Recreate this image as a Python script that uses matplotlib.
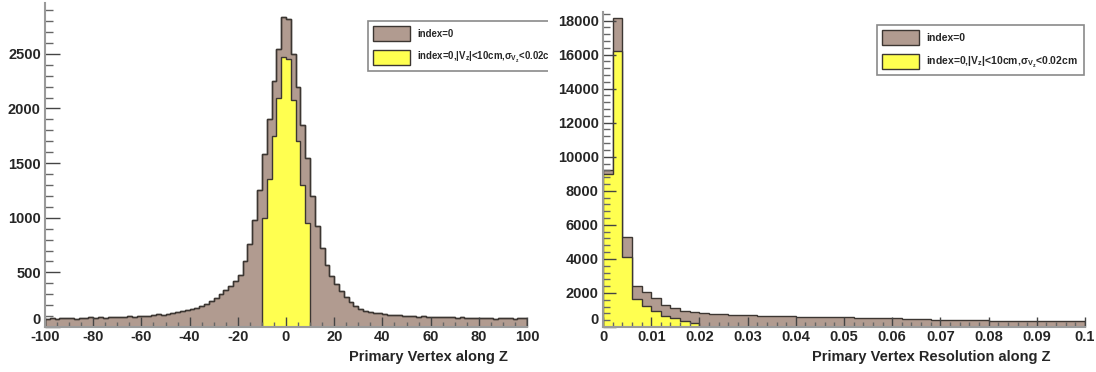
import numpy as np
import matplotlib.pyplot as plt
from matplotlib.patches import Patch, Rectangle
from matplotlib.ticker import MultipleLocator, FuncFormatter
from matplotlib.transforms import Bbox, TransformedBbox

plt.rcParams["font.family"] = ["Liberation Sans", "DejaVu Sans"]
plt.rcParams["font.weight"] = "bold"
plt.rcParams["axes.unicode_minus"] = False
plt.rcParams["mathtext.default"] = "regular"

# ---- left panel: primary vertex z (cm), 2 cm bins from -100 to 100
z_lo, z_hi, z_nbins = -100, 100, 100
z_all = [
    75, 80, 72, 78, 82, 80, 76, 85, 82, 88,
    80, 90, 86, 92, 88, 95, 90, 98, 94, 100,
    105, 100, 110, 118, 112, 122, 130, 138, 145, 155,
    165, 178, 195, 215, 240, 268, 300, 335, 375, 420,
    480, 600, 760, 980, 1250, 1580, 1900, 2250, 2540, 2840,
    2820, 2500, 2200, 1850, 1550, 1200, 920, 720, 570, 470,
    390, 330, 275, 230, 195, 168, 150, 138, 128, 124,
    118, 114, 110, 106, 104, 100, 102, 96, 98, 94,
    92, 95, 90, 88, 92, 85, 88, 82, 86, 80,
    84, 78, 82, 76, 80, 78, 82, 75, 80, 78,
]
# selected events only live inside |Vz| < 10 cm
z_cut_lo, z_cut_hi = -10, 10
z_cut = [1000, 1350, 1750, 2100, 2470, 2450, 2080, 1700, 1300, 950]

# ---- right panel: vertex resolution along z, 0.002 bins from 0 to 0.1
r_lo, r_hi, r_nbins = 0.0, 0.1, 50
r_all = [
    9200, 18150, 5300, 2430, 2080, 1690, 1290, 1100, 930, 880,
    800, 760, 740, 720, 700, 680, 660, 650, 640, 620,
    610, 600, 590, 580, 560, 560, 540, 530, 520, 500,
    500, 470, 460, 450, 440, 440, 420, 410, 400, 390,
    380, 380, 360, 370, 380, 370, 360, 350, 340, 330,
]
r_cut = [9000, 16200, 4100, 1650, 1230, 960, 650, 510, 380, 260]

labels = ["index=0",
          r"index=0,|V$_z$|<10cm,$\sigma_{V_z}$<0.02cm"]
brown = "#b19b90"
yellow = "#ffff50"
edge = "#3c3632"
txt = "#262626"

fig = plt.figure(figsize=(10.96, 3.72), dpi=100)
W, H = 1096, 372
cut_x = 548  # the left picture is cropped here


def px_axes(x0, x1, ytop, ybot):
    return fig.add_axes([x0 / W, 1 - ybot / H, (x1 - x0) / W, (ybot - ytop) / H])


def style(ax, ymaj, ymin, xmaj, xmin, ylen, xlen):
    for s in ["top", "right"]:
        ax.spines[s].set_visible(False)
    for s in ["left", "bottom"]:
        ax.spines[s].set_color("#9a9a9a")
        ax.spines[s].set_linewidth(1.5)
    ax.yaxis.set_major_locator(MultipleLocator(ymaj))
    ax.yaxis.set_minor_locator(MultipleLocator(ymin))
    ax.xaxis.set_major_locator(MultipleLocator(xmaj))
    ax.xaxis.set_minor_locator(MultipleLocator(xmin))
    ax.tick_params(axis="y", which="major", direction="in", length=ylen[0],
                   width=1, color="#444444", labelsize=10.5, labelcolor=txt, pad=3)
    ax.tick_params(axis="y", which="minor", direction="in", length=ylen[1],
                   width=1, color="#666666")
    ax.tick_params(axis="x", which="major", direction="in", length=xlen[0],
                   width=1, color="#444444", labelsize=10.5, labelcolor=txt, pad=2)
    ax.tick_params(axis="x", which="minor", direction="in", length=xlen[1],
                   width=1, color="#666666")


def add_legend(ax, x, y, size=7.5, clip=None):
    handles = [Patch(facecolor=brown, edgecolor=edge, linewidth=1),
               Patch(facecolor=yellow, edgecolor=edge, linewidth=1)]
    k = 7.5 / size  # keep the handles the same size in pixels
    leg = ax.legend(handles, labels, loc="upper left",
                    bbox_to_anchor=(x / W, 1 - y / H), bbox_transform=fig.transFigure,
                    borderaxespad=0, prop={"weight": "bold", "size": size},
                    handlelength=3.5 * k, handleheight=1.8 * k, handletextpad=0.75 * k,
                    labelspacing=0.9 * k, borderpad=0.5 * k, fancybox=False,
                    framealpha=1, edgecolor="#8a8a8a")
    leg.get_frame().set_linewidth(1.2)
    for t in leg.get_texts():
        t.set_color(txt)
        if clip is not None:
            t.set_clip_box(clip)
            t.set_clip_on(True)
    if clip is not None:
        leg.get_frame().set_clip_box(clip)
        leg.get_frame().set_clip_on(True)
    return leg


# left panel
ax1 = px_axes(45, 527, 3, 327)
z_edges = np.linspace(z_lo, z_hi, z_nbins + 1)
ax1.stairs(z_all, z_edges, fill=True, facecolor=brown, edgecolor=edge, linewidth=1)
ax1.stairs(z_cut, np.linspace(z_cut_lo, z_cut_hi, len(z_cut) + 1), fill=True,
           facecolor=yellow, edgecolor=edge, linewidth=1)
ax1.stairs(z_all, z_edges, fill=False, edgecolor=edge, linewidth=1)
ax1.set_xlim(z_lo, z_hi)
ax1.set_ylim(0, 2965)
style(ax1, 500, 100, 20, 5, (11, 6), (7, 3.5))
left_clip = TransformedBbox(Bbox([[0, 0], [cut_x / W, 1]]), fig.transFigure)
add_legend(ax1, 368, 21, size=6.9, clip=left_clip)
fig.text(508 / W, 1 - 357 / H, "Primary Vertex along Z", ha="right", va="center",
         fontsize=10.5, fontweight="bold", color=txt)

# white strip between the two cropped pictures
fig.patches.append(Rectangle((cut_x / W, 0), 60 / W, 1, transform=fig.transFigure,
                             facecolor="white", edgecolor="none", zorder=0.5))

# right panel
ax2 = px_axes(603, 1085, 12, 327)
ax2.set_zorder(1)
r_edges = np.linspace(r_lo, r_hi, r_nbins + 1)
ax2.stairs(r_all, r_edges, fill=True, facecolor=brown, edgecolor=edge, linewidth=1)
ax2.stairs(r_cut, r_edges[:len(r_cut) + 1], fill=True,
           facecolor=yellow, edgecolor=edge, linewidth=1)
ax2.set_xlim(r_lo, r_hi)
ax2.set_ylim(0, 18500)
style(ax2, 2000, 400, 0.01, 0.002, (9, 5), (7, 3.5))
ax2.xaxis.set_major_formatter(FuncFormatter(lambda v, p: "%g" % round(v, 3)))
add_legend(ax2, 877, 25)
fig.text(1050 / W, 1 - 357 / H, "Primary Vertex Resolution along Z", ha="right",
         va="center", fontsize=10.5, fontweight="bold", color=txt)

# ROOT puts the zero label of y a bit higher, clear of the x labels
fig.canvas.draw()
for ax in (ax1, ax2):
    for tick in ax.yaxis.get_major_ticks():
        if abs(tick.get_loc()) < 1e-9:
            tick.label1.set_verticalalignment("bottom")

plt.savefig("out.png", dpi=100)
